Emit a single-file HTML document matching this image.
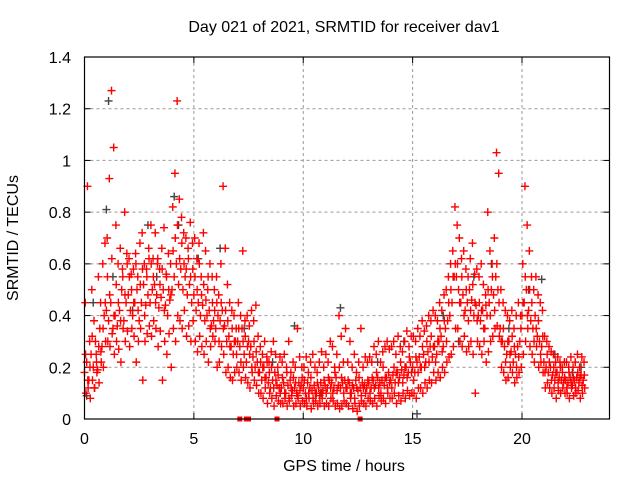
<!DOCTYPE html>
<html><head><meta charset="utf-8"><style>
body{margin:0;background:#fff}
svg{display:block;font-family:"Liberation Sans",sans-serif}
</style></head><body>
<svg id="chart" width="640" height="480">
<rect width="640" height="480" fill="#fff"/>
<text x="344" y="32" font-size="16" text-anchor="middle" fill="#000">Day 021 of 2021, SRMTID for receiver dav1</text>
<text x="344" y="471" font-size="16" text-anchor="middle">GPS time / hours</text>
<text transform="translate(18,238) rotate(-90)" font-size="16" text-anchor="middle">SRMTID / TECUs</text>
<g id="grid"></g><g id="ticks"></g><g id="marks"></g>
<rect x="84.5" y="57" width="525" height="362" fill="none" stroke="#000" stroke-width="1.2"/>
</svg>
<script>
const xTicks=[0,5,10,15,20];
const yTicks=[0,0.2,0.4,0.6,0.8,1,1.2,1.4];
const yTickLabels=["0","0.2","0.4","0.6","0.8","1","1.2","1.4"];
const hourStart=0, hourStep=0.1;
const redA=[.18,.22,.15,.25,.20,.30,.19,.35,.28,.40,
.42,.38,.45,.35,.40,.36,.42,.50,.38,.45,
.48,.42,.40,.45,.50,.38,.45,.52,.44,.48,
.45,.50,.52,.48,.43,.47,.50,.44,.40,.46,
.50,.55,.60,.52,.58,.50,.55,.48,.52,.45,
.48,.42,.45,.40,.44,.38,.40,.42,.36,.38,
.35,.40,.38,.42,.36,.30,.32,.28,.25,.30,
.30,.28,.35,.25,.22,.30,.28,.24,.20,.22,
.18,.15,.20,.16,.14,.12,.15,.18,.13,.12,
.12,.14,.10,.13,.15,.11,.12,.10,.14,.13,
.12,.10,.14,.12,.11,.13,.10,.12,.14,.11,
.13,.12,.15,.14,.12,.16,.13,.12,.14,.15,
.12,.14,.10,.12,.15,.11,.12,.14,.13,.12,
.14,.12,.15,.13,.16,.14,.15,.13,.16,.18,
.15,.17,.14,.18,.16,.19,.17,.20,.18,.22,
.20,.18,.22,.24,.20,.25,.22,.26,.28,.24,
.28,.25,.30,.32,.28,.35,.38,.40,.45,.55,
.55,.50,.45,.48,.42,.45,.50,.46,.40,.44,
.40,.38,.42,.35,.40,.45,.50,.48,.55,.50,
.35,.30,.28,.25,.30,.26,.22,.25,.28,.30,
.40,.45,.50,.42,.38,.35,.40,.32,.30,.28,
.22,.20,.18,.20,.17,.15,.18,.16,.15,.14,
.15,.14,.16,.13,.15,.16,.14,.17,.15];
const redB=[.45,.90,.30,.50,.38,.25,.55,.45,.60,.68,
.70,.93,1.27,1.05,.75,.60,.66,.58,.80,.64,
.62,.56,.58,.64,.55,.68,.72,.60,.58,.66,
.75,.62,.72,.60,.58,.66,.74,.56,.64,.60,
.82,.95,1.23,.85,.78,.72,.70,.66,.76,.68,
.70,.62,.68,.55,.72,.65,.50,.60,.55,.50,
.55,.48,.60,.90,.66,.52,.45,.42,.40,.35,
.45,.40,.65,.38,.40,.36,.42,.38,.44,.32,
.28,.25,.30,.24,.22,.26,.30,.25,.20,.24,
.22,.25,.20,.30,.18,.22,.20,.35,.24,.20,
.20,.24,.18,.22,.25,.20,.18,.22,.26,.20,
.25,.22,.30,.28,.20,.25,.40,.32,.22,.35,
.22,.30,.20,.25,.18,.22,.35,.20,.24,.22,
.24,.22,.28,.25,.30,.22,.26,.28,.30,.27,
.28,.30,.25,.32,.28,.26,.30,.34,.28,.32,
.32,.30,.35,.32,.38,.34,.36,.40,.38,.42,
.40,.38,.45,.42,.48,.50,.55,.60,.65,.82,
.75,.70,.62,.65,.58,.55,.62,.68,.56,.58,
.55,.60,.52,.48,.80,.65,.60,.70,1.03,.95,
.50,.45,.42,.40,.38,.42,.35,.40,.45,.40,
.60,.90,.75,.65,.55,.50,.55,.48,.45,.42,
.32,.30,.28,.26,.25,.22,.24,.22,.20,.22,
.22,.20,.24,.20,.22,.25,.20,.24,.22];
const redC=[.10,.12,.08,.15,.12,.18,.14,.22,.20,.30,
.30,.28,.33,.25,.30,.27,.22,.35,.30,.34,
.28,.35,.32,.22,.30,.35,.15,.30,.33,.36,
.32,.38,.35,.28,.34,.15,.30,.25,.33,.20,
.35,.30,.40,.38,.35,.42,.32,.36,.30,.38,
.30,.26,.32,.28,.25,.30,.22,.28,.32,.30,
.20,.22,.28,.25,.18,.20,.16,.15,.18,.20,
.18,.15,.20,.16,.14,.12,.18,.15,.13,.10,
.10,.08,.12,.06,.10,.08,.05,.09,.07,.06,
.06,.08,.05,.07,.09,.05,.06,.08,.05,.07,
.06,.05,.08,.04,.06,.07,.05,.06,.08,.05,
.06,.05,.08,.07,.05,.06,.04,.05,.07,.06,
.05,.08,.04,.06,.03,.05,.07,.06,.05,.08,
.07,.06,.08,.05,.09,.07,.08,.06,.10,.08,
.08,.10,.06,.09,.07,.10,.08,.11,.09,.10,
.10,.08,.12,.12,.10,.14,.12,.15,.14,.18,
.15,.18,.16,.20,.18,.22,.24,.25,.28,.35,
.35,.30,.28,.32,.26,.28,.30,.25,.10,.30,
.28,.25,.30,.22,.26,.30,.32,.35,.36,.32,
.20,.18,.15,.16,.20,.18,.14,.16,.18,.20,
.25,.30,.35,.28,.25,.22,.28,.20,.22,.18,
.12,.14,.12,.10,.12,.08,.11,.10,.12,.10,
.10,.08,.12,.09,.10,.11,.08,.10,.12];
const redD=[.25,.15,.20,.32,.12,.22,.28,.26,.35,.45,
.55,.48,.62,.40,.52,.45,.38,.55,.48,.60,
.55,.50,.45,.60,.42,.52,.58,.40,.55,.62,
.60,.55,.45,.62,.52,.58,.42,.55,.50,.48,
.65,.70,.75,.62,.68,.60,.58,.62,.55,.58,
.55,.50,.60,.48,.52,.46,.55,.35,.45,.42,
.45,.30,.45,.35,.42,.38,.28,.35,.30,.25,
.35,.22,.30,.32,.28,.25,.20,.30,.26,.18,
.22,.20,.16,.22,.18,.20,.12,.15,.17,.10,
.16,.10,.18,.08,.12,.16,.14,.09,.11,.16,
.15,.08,.10,.16,.08,.10,.14,.09,.10,.15,
.10,.16,.12,.10,.18,.11,.20,.16,.10,.12,
.15,.10,.13,.08,.12,.16,.09,.12,.10,.15,
.10,.16,.12,.18,.12,.10,.20,.16,.12,.14,
.12,.20,.18,.14,.22,.14,.20,.16,.24,.18,
.15,.24,.18,.20,.28,.20,.30,.22,.32,.28,
.22,.30,.35,.26,.38,.30,.45,.50,.55,.60,
.60,.45,.55,.40,.50,.38,.42,.52,.45,.38,
.45,.42,.35,.44,.50,.40,.55,.42,.60,.45,
.30,.35,.22,.30,.25,.32,.28,.20,.24,.35,
.45,.55,.40,.50,.45,.30,.35,.38,.25,.32,
.18,.25,.22,.15,.20,.18,.14,.20,.18,.16,
.12,.18,.14,.16,.12,.18,.16,.13,.17];
const grayHours=[0.1,0.4,1.0,1.1,1.3,2.2,2.9,3.3,4.1,4.3,5.2,6.2,7.3,8.6,9.6,10.8,11.7,13.4,14.6,15.2,16.4,17.1,17.8,18.6,19.4,20.3,20.9,21.5,22.3,22.7];
const grayVals=[0.09,0.45,0.81,1.23,0.55,0.42,0.75,0.55,0.86,0.75,0.62,0.66,0.35,0.22,0.36,0.10,0.43,0.22,0.30,0.02,0.40,0.30,0.55,0.60,0.35,0.50,0.54,0.25,0.18,0.20];
const zeroHours=[7.1,7.4,7.5,8.8,12.6];

const X0=84.5,X1=609.5,Y0=419,Y1=57,XMAX=24,YMAX=1.4;
const xs=h=>X0+(X1-X0)*h/XMAX;
const ys=v=>Y0-(Y0-Y1)*v/YMAX;
const NS='http://www.w3.org/2000/svg';
function mk(tag,attrs,parent){const e=document.createElementNS(NS,tag);for(const k in attrs)e.setAttribute(k,attrs[k]);parent.appendChild(e);return e;}
const grid=document.getElementById('grid'),ticks=document.getElementById('ticks'),marks=document.getElementById('marks');
xTicks.forEach(t=>{
  const x=xs(t);
  if(t>0){const g=mk('line',{x1:x,x2:x,y1:Y1,y2:Y0,stroke:'#999','stroke-dasharray':'3,3'},grid);
  
  }
  mk('line',{x1:x,x2:x,y1:Y0,y2:Y0-6,stroke:'#000'},ticks);
  mk('line',{x1:x,x2:x,y1:Y1,y2:Y1+6,stroke:'#000'},ticks);
  const l=mk('text',{x:x,y:444,'font-size':16,'text-anchor':'middle'},ticks);
  l.textContent=String(t);
  
  
});
yTicks.forEach((t,i)=>{
  const y=ys(t);
  if(t>0&&t<YMAX){const g=mk('line',{x1:X0,x2:X1,y1:y,y2:y,stroke:'#999','stroke-dasharray':'3,3'},grid);
  
  }
  mk('line',{x1:X0,x2:X0+6,y1:y,y2:y,stroke:'#000'},ticks);
  mk('line',{x1:X1,x2:X1-6,y1:y,y2:y,stroke:'#000'},ticks);
  const l=mk('text',{x:71,y:y+6,'font-size':16,'text-anchor':'end'},ticks);
  l.textContent=yTickLabels[i];
  
  
});
function plus(h,v,color,name){
  const x=xs(h),y=ys(v);
  const p=mk('path',{d:`M${x-4},${y}h8M${x},${y-4}v8`,stroke:color,'stroke-width':1.4,fill:'none'},marks);
  
  
}
grayHours.forEach((h,i)=>plus(h,grayVals[i],'#444','gray-point'));
[[redA,0],[redB,0.035],[redC,0.065],[redD,0.05]].forEach(([arr,off])=>{
  arr.forEach((v,i)=>plus(hourStart+i*hourStep+off,v,'#f00','red-point'));
});
zeroHours.forEach(h=>{
  const r=mk('rect',{x:xs(h)-2.5,y:ys(0)-2.5,width:5,height:5,fill:'#f00'},marks);
  
  
});
</script>
</body></html>
